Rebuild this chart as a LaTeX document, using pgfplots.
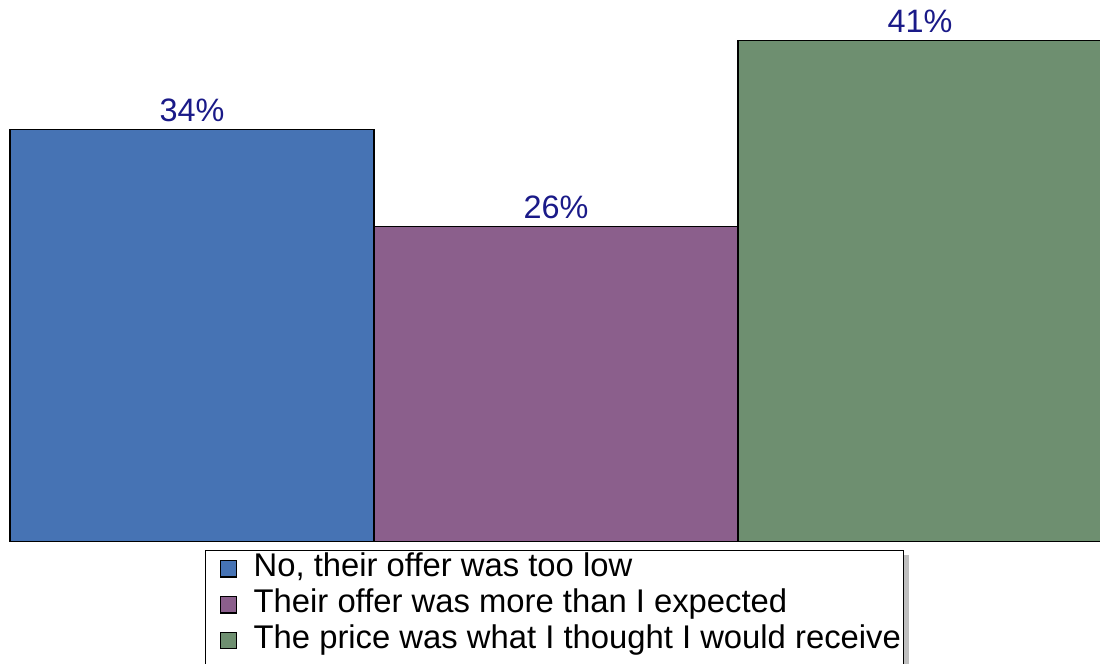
\documentclass[border=0pt]{standalone}
\usepackage{pgfplots}
\pgfplotsset{compat=1.18}
\usepackage{fontspec}
\setmainfont{Liberation Sans}
\usetikzlibrary{shadows}
\makeatletter
\tikzset{noshadow/.code={\def\tikz@preactions{}}}
\makeatother
\definecolor{cblue}{HTML}{4673B4}
\definecolor{cpurple}{HTML}{8B5F8C}
\definecolor{cgreen}{HTML}{6E8F70}
\definecolor{clabel}{HTML}{1A1A88}
\begin{document}
\begin{tikzpicture}
\useasboundingbox (0,0) rectangle (550pt,332pt);
\begin{axis}[
  at={(5pt,61.25pt)}, anchor=south west,
  scale only axis, width=546pt, height=270.5pt,
  xmin=-0.5, xmax=2.5, ymin=0, ymax=44.5,
  hide axis, clip=false,
  ybar, bar width=1, bar shift=0pt,
  point meta=explicit symbolic,
  nodes near coords,
  every node near coord/.append style={font=\fontsize{16.2}{19}\selectfont, text=clabel, inner sep=0pt, yshift=3.5pt, anchor=south},
  legend cell align=left,
  legend image code/.code={
    \path (0pt,0pt);
    \draw[noshadow, #1, draw=black, line width=0.6pt] (5.5pt,-4.2pt) rectangle (13.8pt,4.1pt);
    \path (22pt,0pt);
  },
  legend style={at={(0.17857,-0.01571)}, anchor=north west,
    font=\fontsize{16.4}{19}\selectfont,
    inner xsep=1.5pt, inner ysep=0pt, column sep=0pt,
    nodes={inner xsep=0pt, inner ysep=1pt, text height=12pt, text depth=4pt},
    draw=black, line width=0.5pt, fill=white,
    drop shadow={shadow xshift=2.5pt, shadow yshift=-2.5pt, fill=black!25, opacity=1}},
]
\addplot[fill=cblue, draw=black, line width=0.6pt] coordinates {(0,33.9) [34\%]};
\addlegendentry{No, their offer was too low}
\addplot[fill=cpurple, draw=black, line width=0.6pt] coordinates {(1,25.9) [26\%]};
\addlegendentry{Their offer was more than I expected}
\addplot[fill=cgreen, draw=black, line width=0.6pt] coordinates {(2,41.2) [41\%]};
\addlegendentry{The price was what I thought I would receive}
\addlegendimage{empty legend}
\addlegendentry{}
\end{axis}
\end{tikzpicture}
\end{document}
